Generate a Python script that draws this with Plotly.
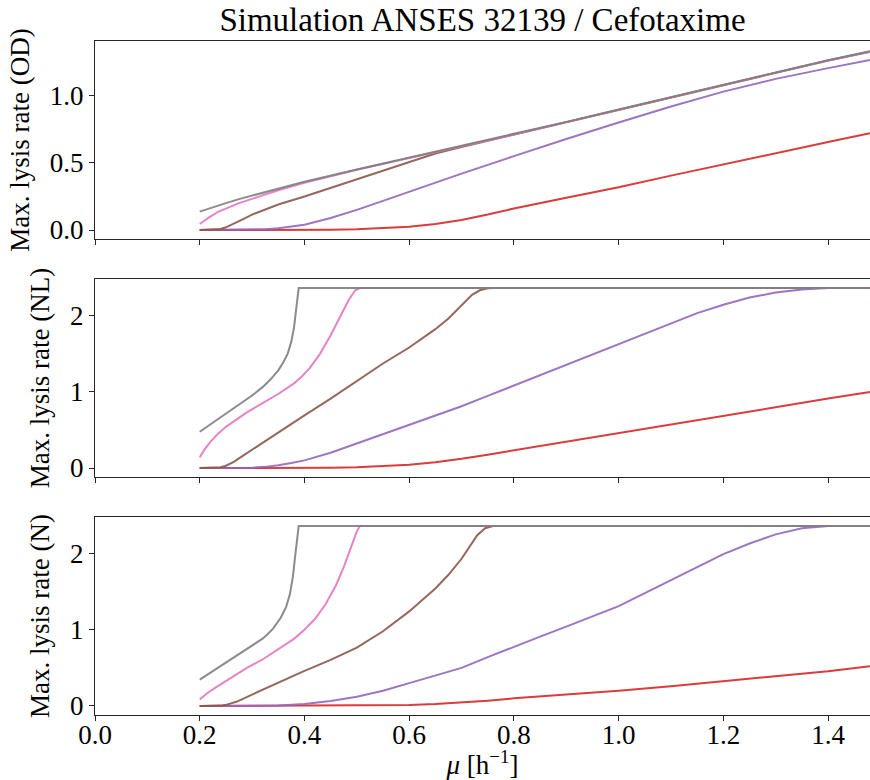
import plotly.graph_objects as go
from plotly.subplots import make_subplots

# ---------------- data ----------------
# Panel 1: Max. lysis rate (OD)
od_red_x = [0.2, 0.4, 0.45, 0.5, 0.55, 0.6, 0.65, 0.7, 0.75, 0.8, 0.9, 1.0, 1.1, 1.2, 1.3, 1.4, 1.48]
od_red_y = [0.0, 0.0, 0.002, 0.006, 0.013, 0.025, 0.045, 0.075, 0.115, 0.16, 0.24, 0.318, 0.405, 0.49, 0.575, 0.655, 0.72]
od_purple_x = [0.2, 0.3, 0.325, 0.35, 0.375, 0.4, 0.45, 0.5, 0.55, 0.6, 0.7, 0.8, 0.9, 1.0, 1.1, 1.2, 1.3, 1.4, 1.48]
od_purple_y = [0.0, 0.002, 0.006, 0.014, 0.025, 0.04, 0.09, 0.15, 0.217, 0.285, 0.42, 0.55, 0.678, 0.8, 0.92, 1.03, 1.125, 1.205, 1.265]
od_brown_x = [0.2, 0.23, 0.24, 0.25, 0.265, 0.28, 0.3, 0.325, 0.35, 0.4, 0.45, 0.5, 0.55, 0.6, 0.65, 0.7,
              0.8, 0.9, 1.0, 1.1, 1.2, 1.3, 1.4, 1.48]
od_brown_y = [0.0, 0.002, 0.008, 0.02, 0.045, 0.075, 0.115, 0.155, 0.19, 0.25, 0.315, 0.375, 0.445, 0.51, 0.57, 0.618,
              0.71, 0.803, 0.895, 0.988, 1.081, 1.173, 1.262, 1.328]
od_pink_x = [0.2, 0.21, 0.22, 0.235, 0.25, 0.275, 0.3, 0.35, 0.4, 0.5, 0.6, 0.7, 0.8, 0.9, 1.0, 1.1, 1.2, 1.3, 1.4, 1.48]
od_pink_y = [0.045, 0.075, 0.1, 0.135, 0.16, 0.2, 0.232, 0.296, 0.352, 0.448, 0.536, 0.623, 0.711, 0.803, 0.895,
             0.988, 1.081, 1.173, 1.262, 1.328]
od_gray_x = [0.2, 0.225, 0.25, 0.275, 0.3, 0.35, 0.4, 0.5, 0.6, 0.7, 0.8, 0.9, 1.0, 1.1, 1.2, 1.3, 1.4, 1.48]
od_gray_y = [0.137, 0.17, 0.2, 0.23, 0.257, 0.31, 0.36, 0.45, 0.538, 0.625, 0.713, 0.805, 0.897, 0.99, 1.083,
             1.175, 1.264, 1.33]

# Panel 2: Max. lysis rate (NL)
nl_red_x = [0.2, 0.4, 0.45, 0.5, 0.55, 0.6, 0.65, 0.7, 0.75, 0.8, 0.9, 1.0, 1.1, 1.2, 1.3, 1.4, 1.48]
nl_red_y = [0.0, 0.0, 0.003, 0.01, 0.022, 0.043, 0.075, 0.12, 0.175, 0.232, 0.347, 0.46, 0.575, 0.69, 0.8, 0.91, 0.995]
nl_purple_x = [0.2, 0.28, 0.3, 0.325, 0.35, 0.375, 0.4, 0.45, 0.5, 0.55, 0.6, 0.65, 0.7, 0.75, 0.8, 0.9, 1.0,
               1.1, 1.15, 1.2, 1.25, 1.3, 1.35, 1.4, 1.48]
nl_purple_y = [0.0, 0.0, 0.005, 0.015, 0.035, 0.065, 0.1, 0.2, 0.32, 0.44, 0.56, 0.685, 0.81, 0.945, 1.08, 1.36,
               1.63, 1.9, 2.03, 2.14, 2.235, 2.3, 2.34, 2.36, 2.36]
nl_brown_x = [0.2, 0.23, 0.24, 0.25, 0.265, 0.28, 0.3, 0.325, 0.35, 0.4, 0.45, 0.5, 0.55, 0.6, 0.625, 0.65,
              0.675, 0.69, 0.705, 0.72, 0.735, 0.75, 0.765, 1.48]
nl_brown_y = [0.0, 0.002, 0.01, 0.03, 0.08, 0.15, 0.24, 0.36, 0.475, 0.69, 0.91, 1.14, 1.37, 1.58, 1.7, 1.82,
              1.96, 2.06, 2.17, 2.27, 2.33, 2.355, 2.36, 2.36]
nl_pink_x = [0.2, 0.21, 0.22, 0.235, 0.25, 0.27, 0.29, 0.32, 0.35, 0.38, 0.395, 0.41, 0.43, 0.45, 0.47, 0.485,
             0.497, 0.506, 1.48]
nl_pink_y = [0.14, 0.25, 0.34, 0.45, 0.54, 0.64, 0.73, 0.85, 0.97, 1.11, 1.2, 1.31, 1.5, 1.74, 2.01, 2.21,
             2.33, 2.36, 2.36]
nl_gray_x = [0.2, 0.22, 0.24, 0.26, 0.28, 0.3, 0.32, 0.335, 0.35, 0.36, 0.368, 0.375, 0.38, 0.384, 0.387,
             0.389, 1.48]
nl_gray_y = [0.476, 0.57, 0.665, 0.76, 0.85, 0.95, 1.06, 1.16, 1.28, 1.39, 1.5, 1.66, 1.84, 2.05, 2.25,
             2.36, 2.36]

# Panel 3: Max. lysis rate (N)
n_red_x = [0.2, 0.5, 0.55, 0.6, 0.65, 0.7, 0.75, 0.8, 0.9, 1.0, 1.1, 1.2, 1.3, 1.4, 1.48]
n_red_y = [0.0, 0.002, 0.005, 0.012, 0.025, 0.045, 0.07, 0.1, 0.15, 0.2, 0.26, 0.325, 0.39, 0.455, 0.52]
n_purple_x = [0.2, 0.3, 0.35, 0.4, 0.45, 0.5, 0.55, 0.6, 0.65, 0.7, 0.75, 0.8, 0.85, 0.9, 0.95, 1.0, 1.05,
              1.1, 1.15, 1.2, 1.25, 1.3, 1.35, 1.4, 1.48]
n_purple_y = [0.0, 0.0, 0.005, 0.025, 0.065, 0.12, 0.2, 0.3, 0.395, 0.5, 0.64, 0.78, 0.91, 1.04, 1.17, 1.31, 1.48,
              1.65, 1.83, 1.99, 2.13, 2.25, 2.33, 2.36, 2.36]
n_brown_x = [0.2, 0.23, 0.24, 0.25, 0.27, 0.3, 0.35, 0.4, 0.45, 0.5, 0.55, 0.6, 0.65, 0.675, 0.7, 0.715, 0.73,
             0.745, 0.76, 1.48]
n_brown_y = [0.0, 0.0, 0.005, 0.015, 0.055, 0.15, 0.31, 0.46, 0.605, 0.765, 0.98, 1.24, 1.54, 1.72, 1.93, 2.09, 2.24,
             2.33, 2.36, 2.36]
n_pink_x = [0.2, 0.215, 0.23, 0.25, 0.27, 0.29, 0.32, 0.35, 0.38, 0.4, 0.42, 0.44, 0.46, 0.475, 0.49, 0.5,
            0.506, 1.48]
n_pink_y = [0.087, 0.17, 0.24, 0.33, 0.42, 0.5, 0.61, 0.74, 0.88, 1.0, 1.14, 1.33, 1.58, 1.82, 2.1, 2.29,
            2.36, 2.36]
n_gray_x = [0.2, 0.22, 0.24, 0.26, 0.28, 0.3, 0.31, 0.32, 0.33, 0.34, 0.355, 0.365, 0.372, 0.378, 0.382, 0.386,
            0.389, 1.48]
n_gray_y = [0.345, 0.435, 0.525, 0.612, 0.698, 0.785, 0.832, 0.883, 0.945, 1.015, 1.16, 1.3, 1.46, 1.7, 1.95,
            2.2, 2.36, 2.36]

x_ticks = [0.0, 0.2, 0.4, 0.6, 0.8, 1.0, 1.2, 1.4]
od_ticks = [0.0, 0.5, 1.0]
nl_ticks = [0, 1, 2]
n_ticks = [0, 1, 2]

y_titles = ["Max. lysis rate (OD)", "Max. lysis rate (NL)", "Max. lysis rate (N)"]
x_title = "<i>μ</i> [h<sup>−1</sup>]"
title_text = "Simulation ANSES 32139 / Cefotaxime"

colors = {"red": "#d62728", "purple": "#9467bd", "brown": "#8c564b",
          "pink": "#e377c2", "gray": "#7f7f7f"}

panels = [
    [("red", od_red_x, od_red_y), ("purple", od_purple_x, od_purple_y),
     ("brown", od_brown_x, od_brown_y), ("pink", od_pink_x, od_pink_y),
     ("gray", od_gray_x, od_gray_y)],
    [("red", nl_red_x, nl_red_y), ("purple", nl_purple_x, nl_purple_y),
     ("brown", nl_brown_x, nl_brown_y), ("pink", nl_pink_x, nl_pink_y),
     ("gray", nl_gray_x, nl_gray_y)],
    [("red", n_red_x, n_red_y), ("purple", n_purple_x, n_purple_y),
     ("brown", n_brown_x, n_brown_y), ("pink", n_pink_x, n_pink_y),
     ("gray", n_gray_x, n_gray_y)],
]

fig = make_subplots(rows=3, cols=1, shared_xaxes=True)

for r, series in enumerate(panels, start=1):
    for name, xs, ys in series:
        fig.add_trace(go.Scatter(x=xs, y=ys, mode="lines", name=name,
                                 line=dict(color=colors[name], width=2),
                                 opacity=0.9, showlegend=False,
                                 hoverinfo="skip"), row=r, col=1)

FONT = "Liberation Serif"
axis_col = "#262626"
common_x = dict(range=[0, 1.48], tickvals=x_ticks, tickformat=".1f",
                showline=True, linecolor=axis_col, linewidth=1.3, mirror=True,
                ticks="outside", ticklen=5, tickwidth=1.3, tickcolor=axis_col,
                showgrid=False, zeroline=False, ticklabelstandoff=-10,
                tickfont=dict(family=FONT, size=27, color="black"))
common_y = dict(showline=True, linecolor=axis_col, linewidth=1.3, mirror=False,
                ticks="outside", ticklen=5, tickwidth=1.3, tickcolor=axis_col,
                showgrid=False, zeroline=False,
                tickfont=dict(family=FONT, size=27, color="black"))

fig.update_xaxes(**common_x)
fig.update_yaxes(**common_y)
fig.update_xaxes(showticklabels=False, row=1, col=1)
fig.update_xaxes(showticklabels=False, row=2, col=1)
fig.update_xaxes(showticklabels=True, row=3, col=1,
                 title=dict(text=x_title, standoff=10,
                            font=dict(family=FONT, size=27, color="black")))

fig.update_layout(
    yaxis=dict(domain=[0.7062, 1.0], range=[-0.067, 1.407], tickvals=od_ticks, tickformat=".1f",
               title=dict(text=y_titles[0], standoff=12, font=dict(family=FONT, size=27, color="black"))),
    yaxis2=dict(domain=[0.3531, 0.6469], range=[-0.118, 2.478], tickvals=nl_ticks,
                title=dict(text=y_titles[1], standoff=12, font=dict(family=FONT, size=27, color="black"))),
    yaxis3=dict(domain=[0.0, 0.2938], range=[-0.118, 2.478], tickvals=n_ticks,
                title=dict(text=y_titles[2], standoff=12, font=dict(family=FONT, size=27, color="black"))),
)

fig.update_layout(
    width=870, height=780,
    margin=dict(l=95, r=0, t=41, b=65),
    plot_bgcolor="white", paper_bgcolor="white",
    showlegend=False,
    title=dict(text=title_text, x=0.5, xref="paper", y=1 - 19 / 780, yref="container",
               xanchor="center", yanchor="middle",
               font=dict(family=FONT, size=33, color="black")),
)

fig.write_html("out.html", config={"displayModeBar": False},
               post_script="document.body.style.margin='0px';document.body.style.overflow='hidden';")
